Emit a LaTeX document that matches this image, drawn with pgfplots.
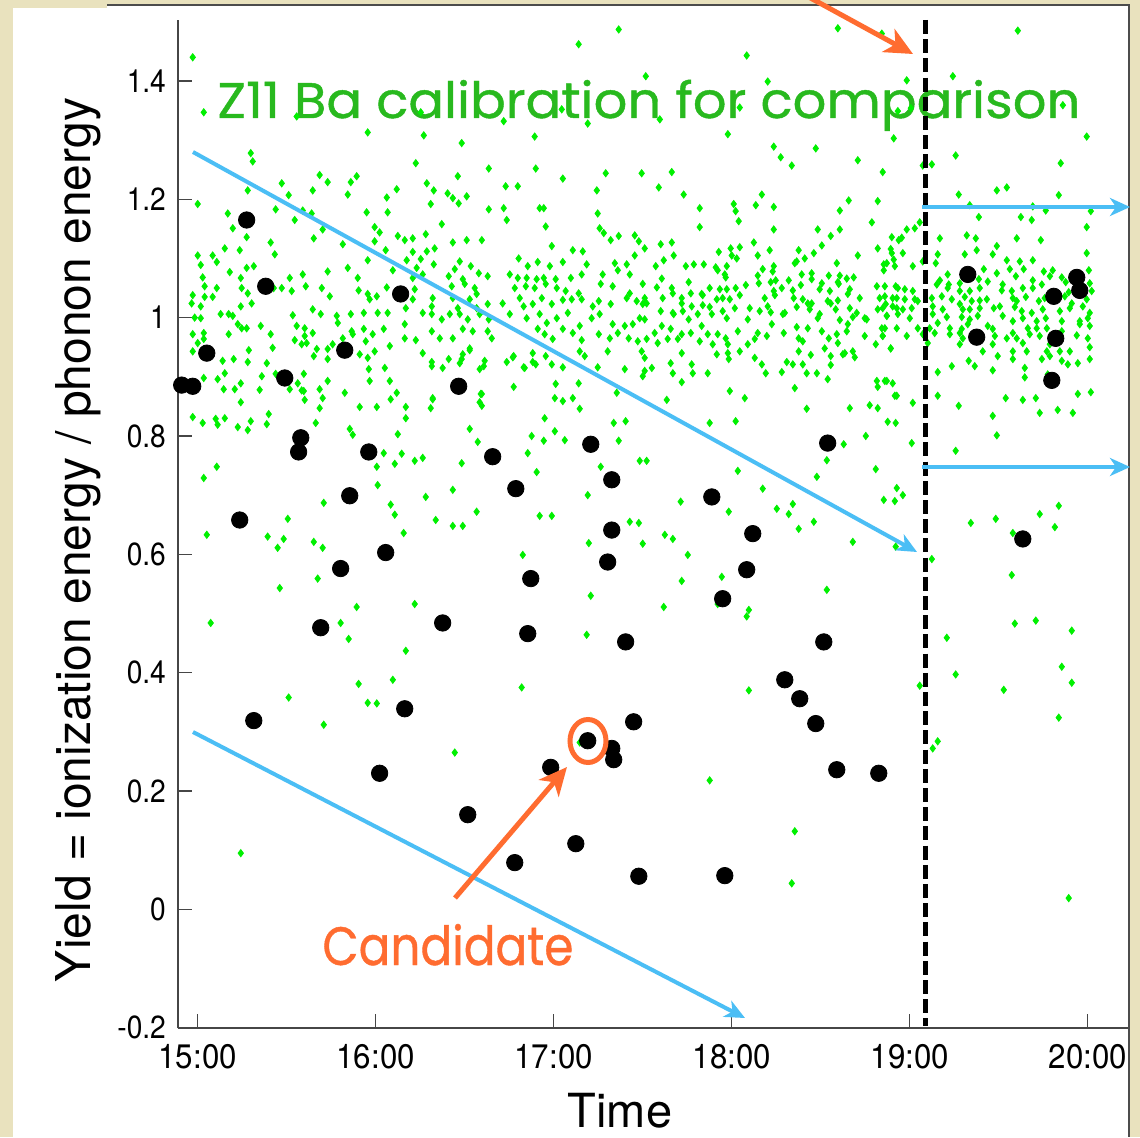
\documentclass[border=0pt]{standalone}
\usepackage{pgfplots}
\pgfplotsset{compat=1.18}
\usepackage{pgfplotstable}
\usepackage{fontspec}
\setmainfont{TeX Gyre Heros}
\newfontfamily\comic[FakeBold=0.8]{Poppins}
\usetikzlibrary{arrows.meta}
\definecolor{bgbeige}{RGB}{233,226,190}
\definecolor{ptgreen}{RGB}{0,240,0}
\definecolor{ttlgreen}{RGB}{40,185,30}
\definecolor{cand}{RGB}{255,108,48}
\definecolor{arrblue}{RGB}{75,190,245}
\definecolor{axgray}{RGB}{70,70,70}

\pgfplotstableread{
x y
14.972 1.440
15.034 1.347
15.556 1.340
15.955 1.313
15.298 1.278
15.309 1.264
15.000 1.192
15.281 1.215
15.472 1.227
15.511 1.207
15.685 1.241
15.730 1.229
15.646 1.215
15.893 1.239
15.860 1.229
15.843 1.208
16.062 1.203
16.118 1.217
15.949 1.178
16.067 1.178
15.438 1.183
15.169 1.176
15.590 1.181
15.640 1.176
15.545 1.165
15.702 1.149
15.994 1.153
16.022 1.144
15.197 1.151
15.275 1.136
15.652 1.134
15.815 1.124
15.994 1.129
16.124 1.138
15.152 1.117
15.236 1.114
15.410 1.127
15.000 1.105
15.084 1.105
15.433 1.107
15.955 1.097
16.056 1.114
15.017 1.089
15.107 1.094
15.275 1.084
15.315 1.087
15.730 1.078
16.096 1.080
15.843 1.084
15.590 1.073
15.028 1.068
15.180 1.077
15.242 1.067
15.517 1.067
15.899 1.067
15.039 1.053
15.107 1.050
15.247 1.050
15.427 1.050
15.472 1.050
15.607 1.053
15.697 1.050
15.904 1.046
15.955 1.040
16.006 1.036
16.062 1.051
14.972 1.038
15.039 1.035
15.084 1.035
15.281 1.041
15.528 1.045
15.742 1.036
15.966 1.031
14.966 1.024
15.017 1.019
15.129 1.006
15.174 1.006
15.197 1.003
15.242 1.019
15.303 1.024
15.534 1.004
15.646 1.014
15.691 1.006
15.781 1.003
15.860 1.006
15.933 1.008
16.011 1.008
16.067 1.008
14.983 1.000
15.017 0.999
15.225 0.989
15.247 0.982
15.275 0.982
15.354 0.986
15.556 0.986
15.601 0.982
15.787 0.991
15.865 0.977
15.933 0.981
15.983 0.972
16.045 0.981
14.972 0.972
15.034 0.974
15.174 0.972
15.410 0.972
15.601 0.969
15.646 0.974
15.758 0.955
15.815 0.965
15.871 0.972
15.944 0.960
16.079 0.952
15.000 0.957
15.034 0.964
15.545 0.962
15.584 0.955
15.612 0.957
15.669 0.947
15.730 0.947
15.910 0.938
15.955 0.932
15.994 0.943
14.972 0.943
15.287 0.945
15.140 0.927
15.202 0.930
15.281 0.925
15.421 0.949
15.388 0.923
15.652 0.935
15.730 0.930
15.961 0.913
16.051 0.915
15.596 0.905
15.730 0.893
15.966 0.893
16.079 0.893
15.034 0.898
15.112 0.896
15.152 0.906
15.208 0.879
15.360 0.901
15.517 0.879
15.584 0.877
15.685 0.879
15.826 0.873
14.972 0.832
15.028 0.822
15.101 0.829
15.112 0.819
15.152 0.830
15.225 0.815
15.281 0.810
15.298 0.825
15.388 0.820
15.399 0.837
15.242 0.857
15.146 0.879
15.242 0.889
15.348 0.878
15.438 0.905
15.562 0.889
15.596 0.876
15.601 0.861
15.663 0.822
15.702 0.864
15.685 0.847
15.854 0.812
15.871 0.802
15.910 0.849
16.006 0.849
16.084 0.862
16.118 0.873
16.124 0.803
16.169 0.830
16.169 0.849
16.045 0.771
16.146 0.770
16.107 0.753
16.006 0.748
16.011 0.717
16.084 0.684
16.107 0.667
16.157 0.636
16.219 0.758
16.264 0.763
16.281 0.697
16.337 0.658
16.433 0.648
16.433 0.709
16.489 0.648
16.483 0.754
16.567 0.672
16.528 0.812
16.573 0.790
16.584 0.857
16.590 0.871
16.775 0.883
16.770 0.933
16.876 0.800
16.904 0.739
16.854 0.771
16.826 0.599
16.944 0.792
16.921 0.665
16.949 0.830
16.320 0.864
16.315 0.918
16.264 0.940
16.376 0.915
16.483 0.930
16.528 0.945
16.607 0.918
16.736 0.925
16.831 0.916
16.882 0.925
16.955 0.935
15.034 0.729
15.107 0.748
15.051 0.633
15.073 0.484
15.461 0.543
15.393 0.630
15.449 0.611
15.483 0.626
15.506 0.660
15.652 0.621
15.674 0.559
15.702 0.611
15.708 0.687
15.803 0.484
15.848 0.457
15.893 0.511
15.904 0.381
16.096 0.388
15.511 0.358
16.169 0.437
16.219 0.516
16.820 0.375
15.955 0.349
16.006 0.348
15.708 0.312
16.444 0.265
15.242 0.095
17.365 1.487
17.140 1.462
17.517 1.408
16.253 1.347
16.719 1.332
17.045 1.352
17.191 1.328
17.596 1.335
16.270 1.308
16.483 1.295
16.893 1.306
16.225 1.261
16.635 1.252
16.899 1.252
16.461 1.239
17.051 1.235
17.292 1.244
17.494 1.244
17.663 1.246
16.287 1.227
16.326 1.215
16.404 1.210
16.433 1.202
16.466 1.193
16.511 1.205
16.730 1.222
16.798 1.222
17.242 1.215
17.590 1.220
17.730 1.208
16.309 1.192
16.635 1.183
16.719 1.185
16.921 1.185
16.944 1.185
17.247 1.176
17.820 1.185
16.736 1.165
16.371 1.158
16.955 1.154
17.258 1.151
17.281 1.143
16.281 1.141
16.163 1.131
16.208 1.134
16.433 1.127
16.511 1.131
16.596 1.131
16.989 1.121
17.107 1.114
17.163 1.112
17.320 1.131
17.365 1.138
17.455 1.139
17.478 1.129
17.511 1.117
16.331 1.117
16.287 1.112
16.208 1.111
16.174 1.097
16.253 1.099
16.326 1.090
16.472 1.095
16.534 1.087
16.803 1.100
16.854 1.087
16.910 1.094
16.978 1.087
17.051 1.094
17.185 1.090
17.343 1.092
17.410 1.090
17.455 1.105
16.230 1.084
16.444 1.082
16.753 1.073
16.798 1.067
16.848 1.067
16.904 1.065
16.944 1.067
17.011 1.065
17.096 1.067
17.157 1.073
17.275 1.073
17.360 1.080
17.427 1.073
16.264 1.073
16.208 1.067
16.410 1.070
16.489 1.065
16.579 1.075
16.629 1.070
16.427 1.053
16.500 1.057
16.556 1.050
16.781 1.050
16.843 1.053
16.893 1.050
16.955 1.057
17.017 1.050
17.067 1.045
17.140 1.041
17.264 1.057
17.331 1.053
17.427 1.041
17.500 1.057
16.219 1.048
16.320 1.033
16.315 1.019
16.208 1.031
16.169 1.016
16.433 1.033
16.461 1.016
16.528 1.031
16.567 1.040
16.567 1.016
16.629 1.023
16.713 1.024
16.809 1.033
16.831 1.019
16.882 1.023
16.933 1.033
16.989 1.023
17.051 1.030
17.101 1.031
17.157 1.031
17.219 1.019
17.253 1.028
17.320 1.023
17.410 1.033
17.466 1.028
17.522 1.024
16.163 0.989
16.264 1.008
16.315 1.006
16.371 0.997
16.416 1.006
16.472 1.006
16.517 0.997
16.584 1.006
16.635 0.997
16.753 1.006
16.848 0.999
16.921 1.006
16.961 0.991
17.017 0.999
17.079 1.008
17.146 0.986
17.213 0.999
17.258 1.006
17.331 0.989
17.399 0.986
17.444 0.989
17.483 0.999
16.163 0.965
16.225 0.962
16.315 0.977
16.360 0.965
16.433 0.965
16.489 0.981
16.545 0.977
16.629 0.977
16.652 0.965
16.910 0.981
16.949 0.972
16.994 0.964
17.051 0.981
17.107 0.974
17.157 0.962
17.253 0.972
17.315 0.965
17.360 0.974
17.421 0.965
17.472 0.960
16.315 0.925
16.410 0.930
16.472 0.923
16.489 0.938
16.528 0.948
16.612 0.927
16.775 0.935
16.837 0.915
16.882 0.940
16.899 0.921
16.989 0.921
17.051 0.916
17.146 0.943
17.174 0.935
17.247 0.916
17.303 0.943
17.399 0.913
17.511 0.910
16.584 0.913
16.320 0.862
16.596 0.871
17.011 0.888
17.006 0.864
17.051 0.859
17.107 0.864
17.140 0.889
17.354 0.873
16.309 0.847
16.596 0.851
18.275 1.271
18.708 1.266
18.337 1.257
18.848 1.246
18.169 1.208
18.011 1.192
18.135 1.190
18.236 1.187
18.657 1.198
18.820 1.197
18.022 1.180
18.607 1.181
18.039 1.163
18.787 1.161
17.820 1.153
18.236 1.149
18.483 1.149
18.607 1.149
18.556 1.138
18.899 1.136
17.601 1.124
17.663 1.127
18.124 1.127
18.506 1.122
17.927 1.111
17.994 1.117
18.045 1.119
18.213 1.114
18.376 1.114
18.461 1.109
18.820 1.117
18.893 1.116
18.938 1.131
17.674 1.105
18.000 1.105
18.146 1.105
18.410 1.100
18.708 1.105
18.910 1.098
17.618 1.097
18.028 1.100
18.365 1.095
17.742 1.087
17.787 1.090
17.843 1.090
17.910 1.085
17.972 1.087
18.236 1.087
18.354 1.092
18.590 1.092
18.871 1.092
17.573 1.087
17.921 1.080
17.961 1.073
18.174 1.082
18.230 1.078
18.449 1.075
18.545 1.071
18.607 1.071
18.646 1.066
18.685 1.068
18.854 1.080
18.916 1.087
17.607 1.066
17.966 1.068
18.146 1.071
18.219 1.060
18.247 1.063
18.393 1.073
18.449 1.065
18.506 1.058
18.596 1.060
17.579 1.051
17.663 1.050
17.758 1.060
17.831 1.040
17.876 1.050
17.933 1.048
17.972 1.048
18.022 1.050
18.079 1.055
18.152 1.058
18.236 1.045
18.281 1.050
18.320 1.063
18.388 1.055
18.343 1.046
18.494 1.048
18.551 1.045
18.601 1.057
18.663 1.048
18.652 1.040
18.815 1.053
18.921 1.053
17.511 1.033
17.612 1.033
17.669 1.041
17.719 1.033
17.770 1.041
17.837 1.038
17.916 1.031
17.949 1.033
17.989 1.031
18.045 1.038
18.185 1.033
18.242 1.038
18.348 1.033
18.399 1.031
18.449 1.024
18.539 1.028
18.596 1.029
18.719 1.033
18.831 1.033
18.927 1.033
17.500 1.023
17.601 1.011
17.669 1.008
17.719 1.024
17.725 1.011
17.775 1.019
17.837 1.021
17.876 1.018
17.949 1.011
18.017 1.016
18.101 1.016
18.157 1.011
18.202 1.019
18.219 1.009
18.298 1.008
18.365 1.018
18.427 1.024
18.438 1.014
18.494 1.006
18.556 1.024
18.584 1.014
18.663 1.016
18.702 1.008
18.747 0.999
18.820 1.014
18.865 1.023
18.871 1.003
18.927 1.016
17.511 0.997
17.674 1.006
17.758 0.997
17.809 1.006
17.888 1.006
17.972 0.999
18.090 0.997
18.225 0.989
18.287 1.006
18.365 0.984
18.427 0.982
18.483 0.999
18.607 0.996
18.652 0.989
18.680 1.001
18.758 0.997
18.843 0.982
17.567 0.974
17.607 0.986
17.657 0.981
17.719 0.972
17.770 0.974
17.831 0.986
17.865 0.972
17.921 0.972
17.966 0.965
18.034 0.977
18.146 0.974
18.197 0.969
18.292 0.974
18.376 0.965
18.506 0.977
18.545 0.965
18.590 0.972
18.646 0.977
18.747 0.969
18.848 0.969
17.522 0.964
17.584 0.957
17.640 0.964
17.697 0.964
17.820 0.960
17.893 0.955
17.978 0.955
18.090 0.955
18.129 0.964
18.399 0.960
18.522 0.948
18.596 0.957
18.635 0.940
18.680 0.943
18.809 0.955
17.494 0.943
17.511 0.932
17.719 0.940
17.916 0.938
17.978 0.940
18.045 0.943
18.129 0.932
18.309 0.925
18.376 0.943
18.444 0.937
18.556 0.935
18.624 0.938
18.691 0.933
18.893 0.948
17.551 0.915
17.657 0.923
17.669 0.906
17.775 0.921
17.781 0.906
17.865 0.906
17.983 0.930
18.169 0.921
18.191 0.906
18.281 0.908
18.343 0.921
18.399 0.921
18.421 0.906
18.478 0.906
18.556 0.920
18.539 0.896
17.500 0.901
17.719 0.891
18.815 0.893
18.871 0.893
18.820 0.883
17.989 0.876
18.354 0.881
17.635 0.861
18.073 0.864
18.916 0.868
18.421 0.846
18.663 0.847
18.775 0.852
18.820 0.847
17.006 0.808
17.062 0.793
17.146 0.846
17.337 0.822
17.404 0.825
17.365 0.792
17.264 0.748
17.483 0.758
17.522 0.758
16.989 0.665
17.191 0.700
17.197 0.619
17.427 0.655
17.478 0.653
17.500 0.618
17.624 0.633
17.669 0.626
17.713 0.689
17.753 0.599
17.719 0.555
17.618 0.511
17.944 0.562
17.921 0.516
17.983 0.672
17.876 0.822
18.022 0.825
18.034 0.741
18.174 0.711
18.253 0.677
18.320 0.668
18.343 0.685
18.376 0.643
18.461 0.655
18.478 0.731
18.534 0.759
18.629 0.786
18.680 0.621
18.753 0.800
18.809 0.744
18.876 0.824
18.921 0.822
18.854 0.692
18.916 0.690
18.927 0.712
18.921 0.613
18.534 0.540
18.096 0.506
18.084 0.495
17.208 0.530
17.185 0.464
18.096 0.370
17.876 0.218
18.354 0.132
17.146 0.282
18.337 0.044
19.275 1.208
19.489 1.215
19.545 1.220
19.837 1.207
19.337 1.190
19.691 1.188
19.764 1.181
20.017 1.180
19.388 1.170
19.624 1.170
19.685 1.165
19.994 1.153
19.056 1.161
19.028 1.151
18.983 1.149
18.955 1.135
19.169 1.134
19.320 1.139
19.371 1.134
19.601 1.134
19.736 1.131
19.489 1.121
19.376 1.114
19.994 1.109
19.309 1.107
19.466 1.107
19.157 1.107
19.691 1.097
19.545 1.097
19.618 1.095
19.213 1.073
19.146 1.092
19.416 1.082
19.562 1.082
19.640 1.082
19.753 1.078
19.803 1.080
19.854 1.068
20.006 1.080
18.854 1.090
18.899 1.109
18.961 1.109
19.017 1.087
19.073 1.095
19.169 1.063
19.219 1.056
19.281 1.058
19.388 1.065
19.438 1.061
19.489 1.075
19.522 1.056
19.596 1.070
19.691 1.063
19.742 1.056
19.787 1.070
19.876 1.060
19.910 1.066
19.966 1.070
20.011 1.058
18.860 1.053
18.933 1.050
18.972 1.048
19.017 1.045
19.152 1.056
19.213 1.050
19.281 1.045
19.337 1.045
19.393 1.050
19.517 1.046
19.573 1.045
19.635 1.050
19.691 1.050
19.893 1.043
19.972 1.048
20.022 1.045
18.860 1.036
18.904 1.033
18.972 1.031
19.028 1.031
19.124 1.033
19.180 1.036
19.236 1.031
19.309 1.035
19.348 1.028
19.393 1.029
19.433 1.031
19.579 1.033
19.601 1.028
19.652 1.035
19.725 1.028
19.758 1.033
19.871 1.036
19.910 1.024
19.994 1.031
18.848 1.016
18.904 1.019
18.961 1.014
19.011 1.016
19.045 1.028
19.129 1.019
19.185 1.014
19.281 1.023
19.298 1.014
19.337 1.014
19.393 1.016
19.472 1.016
19.506 1.019
19.590 1.018
19.629 1.011
19.685 1.008
19.747 1.014
19.843 1.011
19.899 1.016
19.972 1.019
20.011 1.008
18.871 1.003
18.933 1.006
19.000 0.999
19.129 1.006
19.208 1.001
19.292 1.001
19.337 0.997
19.382 1.003
19.522 1.003
19.579 0.994
19.635 0.999
19.713 0.994
19.764 0.999
19.854 0.994
19.955 0.994
20.000 0.999
18.860 0.982
18.927 0.982
19.045 0.982
19.112 0.982
19.157 0.991
19.225 0.982
19.292 0.981
19.326 0.989
19.438 0.986
19.466 0.981
19.579 0.974
19.663 0.982
19.713 0.982
19.770 0.982
19.854 0.977
19.955 0.989
20.011 0.986
18.848 0.969
18.983 0.969
19.073 0.972
19.140 0.974
19.225 0.972
19.281 0.974
19.298 0.965
19.365 0.972
19.478 0.969
19.545 0.965
19.601 0.965
19.674 0.972
19.730 0.969
19.938 0.970
20.000 0.965
18.893 0.948
19.101 0.957
19.281 0.955
19.410 0.943
19.466 0.955
19.494 0.935
19.579 0.943
19.635 0.957
19.657 0.943
19.770 0.943
19.787 0.955
19.843 0.943
19.854 0.927
19.899 0.943
20.011 0.950
19.236 0.918
19.331 0.927
19.365 0.918
19.466 0.911
19.579 0.930
19.646 0.915
19.742 0.930
19.787 0.935
19.888 0.921
19.944 0.923
20.011 0.930
18.860 0.893
18.904 0.889
19.157 0.908
19.646 0.899
19.775 0.904
19.944 0.871
20.017 0.874
18.927 0.868
19.017 0.856
19.157 0.868
19.275 0.851
19.466 0.834
19.489 0.801
19.539 0.864
19.635 0.861
19.708 0.864
19.730 0.839
19.831 0.844
19.916 0.839
19.011 0.788
19.258 0.775
18.961 0.700
19.124 0.592
19.343 0.653
19.483 0.660
19.730 0.668
19.837 0.682
19.815 0.646
19.579 0.636
19.573 0.565
19.590 0.483
19.708 0.488
19.910 0.471
19.208 0.459
19.854 0.410
19.258 0.397
19.056 0.378
19.910 0.383
19.528 0.371
19.837 0.324
19.157 0.284
19.129 0.272
19.893 0.019
18.596 1.489
19.607 1.485
18.084 1.443
19.242 1.408
18.202 1.399
18.983 1.401
18.843 1.480
18.045 1.355
19.006 1.354
18.933 1.349
19.860 1.359
17.978 1.310
18.910 1.303
19.994 1.306
18.236 1.289
18.472 1.286
19.258 1.274
19.124 1.259
19.073 1.257
19.848 1.261
}\greendata

\pgfplotstableread{
x y
14.910 0.886
14.972 0.884
15.051 0.940
15.275 1.165
15.382 1.053
15.236 0.658
15.315 0.319
15.489 0.898
15.579 0.797
15.567 0.773
15.691 0.476
15.826 0.945
15.803 0.576
15.854 0.699
15.961 0.773
16.056 0.603
16.022 0.230
16.140 1.040
16.163 0.339
16.376 0.484
16.466 0.884
16.517 0.160
16.657 0.765
16.787 0.711
16.871 0.559
16.854 0.466
16.781 0.079
16.983 0.240
17.124 0.111
17.191 0.285
17.326 0.272
17.337 0.253
17.449 0.317
17.208 0.786
17.326 0.726
17.326 0.641
17.303 0.587
17.404 0.452
17.478 0.056
17.888 0.697
18.118 0.635
18.084 0.574
17.949 0.525
18.539 0.788
18.517 0.452
18.298 0.388
18.382 0.356
18.472 0.314
18.590 0.236
18.826 0.230
17.961 0.057
19.326 1.073
19.376 0.967
19.809 1.036
19.820 0.965
19.798 0.894
19.938 1.068
19.955 1.046
19.635 0.626
}\blackdata

\newcommand{\xl}[1]{\scalebox{0.92}[1]{#1}}
\newcommand{\yl}[1]{\scalebox{0.88}[1]{#1}}

\tikzset{px/.style={x=0.5pt,y=-0.5pt,shift={(0pt,568.5pt)}}}

\begin{document}
\begin{tikzpicture}
\useasboundingbox (0pt,0pt) rectangle (570pt,568.5pt);
\begin{scope}[px]
\fill[bgbeige] (0,0) rectangle (1140,1137);
\fill[white] (13,8) rectangle (1128,1137);
\fill[white] (107,5) rectangle (1128,8);
\draw[gray!60!black, line width=1pt] (107,5) -- (1129,5) -- (1129,1137);
\node[anchor=base west, inner sep=0pt, text=ttlgreen, font=\comic\fontsize{25}{30}\selectfont] at (217,118) {\resizebox{431.5pt}{\height}{Z11 Ba calibration for comparison}};
\node[anchor=base west, inner sep=0pt, text=cand, font=\comic\fontsize{27}{32}\selectfont] at (322,965) {\resizebox{125.5pt}{\height}{Candidate}};
\node[rotate=90, anchor=base, inner sep=0pt, font=\fontsize{24}{28}\selectfont] at (90,540) {Yield = ionization energy / phonon energy};
\node[anchor=base, inner sep=0pt, font=\fontsize{23.5}{28}\selectfont] at (620,1127) {Time};
\end{scope}
\begin{axis}[
  at={(89.15pt,54.35pt)}, anchor=south west,
  scale only axis, width=474.85pt, height=504.15pt,
  xmin=14.891, xmax=20.226, ymin=-0.201, ymax=1.503,
  axis x line*=bottom, axis y line*=left,
  axis line style={-, draw=axgray, line width=1pt},
  tick align=inside,
  major tick length=7pt,
  tick style={draw=axgray, line width=0.6pt},
  xtick={15,16,17,18,19,20},
  xticklabels={\xl{15:00},\xl{16:00},\xl{17:00},\xl{18:00},\xl{19:00},\xl{20:00}},
  ytick={-0.2,0,0.2,0.4,0.6,0.8,1,1.2,1.4},
  yticklabels={\yl{-0.2},\yl{0},\yl{0.2},\yl{0.4},\yl{0.6},\yl{0.8},\yl{1},\yl{1.2},\yl{1.4}},
  xticklabel style={font=\fontsize{17}{20}\selectfont, inner sep=0pt, anchor=north, yshift=-8pt},
  yticklabel style={font=\fontsize{16}{19}\selectfont, inner sep=0pt, anchor=east, xshift=-6pt},
  clip=false,
]
\addplot[only marks, mark=diamond*, mark size=1.8pt, mark options={fill=ptgreen, draw=ptgreen, line width=0.4pt}] table {\greendata};
\addplot[only marks, mark=*, mark size=4.1pt, mark options={fill=black, draw=black}] table {\blackdata};
\end{axis}
\begin{scope}[px]
\draw[black, line width=2.5pt, dash pattern=on 7pt off 2.6pt] (925,20) -- (925,1026);
\draw[arrblue, line width=2pt, -{Stealth[length=10pt, width=9pt, inset=3pt]}] (193,152) -- (917,552);
\draw[arrblue, line width=2pt, -{Stealth[length=10pt, width=9pt, inset=3pt]}] (193,732) -- (745,1018);
\draw[arrblue, line width=2pt, -{Stealth[length=10pt, width=9pt, inset=3pt]}] (922,207) -- (1130,207);
\draw[arrblue, line width=2pt, -{Stealth[length=10pt, width=9pt, inset=3pt]}] (922,467) -- (1130,467);
\draw[cand, line width=2.5pt, -{Stealth[length=14pt, width=13pt, inset=4pt]}] (455,898) -- (567,767);
\draw[cand, line width=2.5pt, -{Stealth[length=14pt, width=13pt, inset=4pt]}] (805,-5) -- (913,54);
\draw[cand, line width=2.5pt] (588,741) ellipse [x radius=9pt, y radius=10.75pt];
\end{scope}
\end{tikzpicture}
\end{document}
